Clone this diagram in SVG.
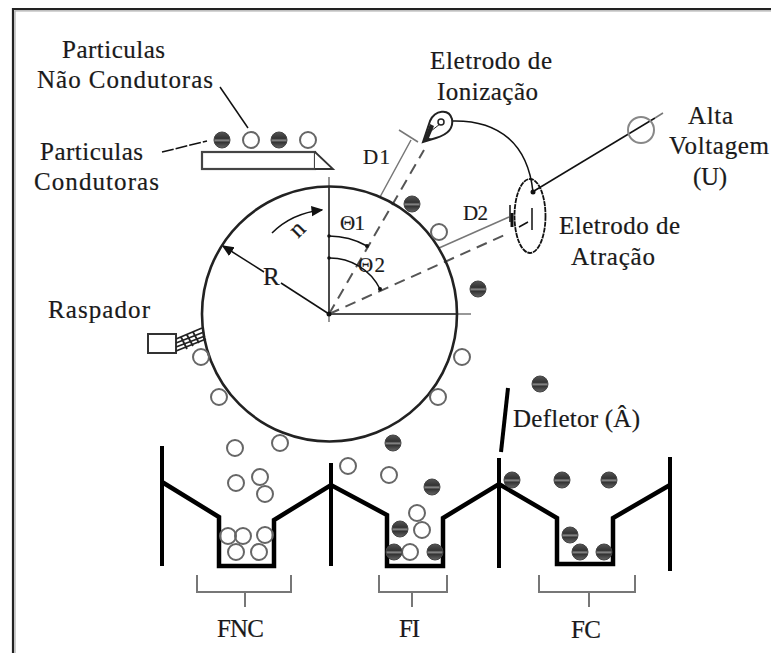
<svg xmlns="http://www.w3.org/2000/svg" width="771" height="653" viewBox="0 0 771 653">
<style>
text{font-family:"Liberation Serif","Times New Roman",serif;font-size:25px;fill:#1a1a1a;stroke:#1a1a1a;stroke-width:.2}
.sm{font-size:21px}
.o{fill:none;stroke:#666;stroke-width:2}
.d{fill:url(#dk);stroke:#444;stroke-width:1}
.h{fill:none;stroke:#000;stroke-width:4.5;stroke-linejoin:miter;stroke-linecap:butt}
.w{fill:none;stroke:#000;stroke-width:4}
.br{fill:none;stroke:#777;stroke-width:2}
.l{fill:none;stroke:#111;stroke-width:1.5}
.g{fill:none;stroke:#777;stroke-width:1.5}
.da{fill:none;stroke:#555;stroke-width:2;stroke-dasharray:11 7}
</style>
<defs>
<linearGradient id="dk" x1="0" y1="0" x2="0" y2="1">
<stop offset="0" stop-color="#555"/><stop offset=".4" stop-color="#333"/><stop offset=".52" stop-color="#888"/><stop offset=".64" stop-color="#333"/><stop offset="1" stop-color="#666"/>
</linearGradient>
<marker id="ah" markerWidth="8" markerHeight="8" refX="7" refY="3.5" orient="auto"><path d="M0 0L8 3.5L0 7z" fill="#111"/></marker>
</defs>
<rect width="771" height="653" fill="#fff"/>
<g id="frame">
<path d="M771 9H13V653" fill="none" stroke="#222" stroke-width="2.200"/>
<path d="M771 10.800H15V653" fill="none" stroke="#aaa" stroke-width="1.200"/>
</g>
<g id="connectors">
<path class="l" d="M220 87L248 128"/>
<path class="l" stroke-dasharray="12 2" d="M162 152L207 141"/>
<path class="l" stroke-width="1.600" d="M450 121C500 119 528 145 533 192"/>
<path class="l" d="M534 191L655 118"/>
<path class="g" d="M655 118L663 113"/>
<path class="l" d="M329 187V314H457"/>
<path class="g" d="M329 177V187M329 314V322M457 314H471"/>
<path class="da" d="M329 314L424 150"/>
<path class="da" d="M329 314L509 233"/>
<path class="g" stroke-width="2" d="M380 197L411 140M399 130L418 142"/>
<path class="g" stroke-width="2" d="M439 248L509 217"/>
<path class="l" marker-end="url(#ah)" d="M272 233C285 220 303 212 322 210"/>
<path class="l" d="M329 314L281 283"/>
<path class="l" marker-end="url(#ah)" d="M264 272L223 246"/>
<path class="l" d="M329 236A78 78 0 0 1 367 246M329 258A56 56 0 0 1 380 289"/>
<circle cx="329" cy="236" r="1.800" fill="#111"/><circle cx="329" cy="258" r="1.800" fill="#111"/><circle cx="367" cy="246" r="2" fill="#111"/><circle cx="380" cy="289" r="2" fill="#111"/><circle cx="329" cy="314" r="2.500" fill="#111"/>
</g>
<g id="drum"><circle cx="329.500" cy="314" r="127.500" fill="none" stroke="#222" stroke-width="2.600"/></g>
<g id="plate">
<rect x="202" y="152" width="113" height="17" fill="#fff" stroke="#444" stroke-width="2.200"/>
<path d="M315 152L333 169H315" fill="#fff" stroke="#333" stroke-width="1.800"/>
</g>
<g id="scraper">
<rect x="148" y="334" width="28" height="19" fill="#fff" stroke="#333" stroke-width="2"/>
<path fill="none" stroke="#222" stroke-width="1.800" d="M176 339L202 328M176 343L204 332M176 347L205 336M176 351L206 339M181 337L187 349M187 335L193 346M193 332L199 343"/>
</g>
<g id="ionization-electrode">
<path fill="#fff" stroke="#222" stroke-width="2" d="M423 142L430 121C435 110 449 108 452 119C454 130 446 135 436 138Z"/>
<path fill="#222" d="M423 142L430 124L434 126L429 138L433 139Z"/>
<circle cx="441" cy="122" r="3" fill="none" stroke="#222" stroke-width="1.500"/>
<path stroke="#222" fill="none" d="M431 131L440 124"/>
</g>
<g id="attraction-electrode">
<ellipse cx="530" cy="216" rx="15.500" ry="37" fill="none" stroke="#111" stroke-width="1.800" stroke-dasharray="5 .8"/>
<circle cx="533" cy="192" r="2.500" fill="#111"/>
<path stroke="#111" stroke-width="1.500" fill="none" d="M532 208V230M519 227L528 222M510 205V222"/>
<path stroke="#111" stroke-width="3" fill="none" d="M512 213V227"/>
</g>
<g id="voltage"><circle cx="641" cy="130" r="13" fill="none" stroke="#888" stroke-width="2"/></g>
<g id="hoppers">
<path class="h" d="M162 482L219 517V566H274V520L331 485L387 515V566H443V518L499 484L557 518V564H613V518L670 485"/>
<path class="w" d="M162 446V566M331 463V566M499 458V568M670 457V571"/>
<path class="w" d="M508 388L501 452"/>
</g>
<g id="brackets">
<path class="br" d="M197 575V592H291V575M245 592V607"/>
<path class="br" d="M379 575V592H447V575M412 592V607"/>
<path class="br" d="M539 575V592H635V575M589 592V607"/>
</g>
<g id="open-particles">
<circle class="o" cx="251" cy="140" r="8"/><circle class="o" cx="308" cy="140" r="8"/>
<circle class="o" cx="439" cy="232" r="8"/><circle class="o" cx="462" cy="357" r="8"/>
<circle class="o" cx="201" cy="357" r="8"/><circle class="o" cx="219" cy="397" r="8"/>
<circle class="o" cx="280" cy="443" r="8"/><circle class="o" cx="438" cy="397" r="8"/>
<circle class="o" cx="235" cy="448" r="8"/><circle class="o" cx="236" cy="483" r="8"/>
<circle class="o" cx="260" cy="477" r="8"/><circle class="o" cx="265" cy="494" r="8"/>
<circle class="o" cx="348" cy="466" r="8"/><circle class="o" cx="389" cy="475" r="8"/>
<circle class="o" cx="417" cy="513" r="8"/><circle class="o" cx="422" cy="530" r="8"/>
<circle class="o" cx="228" cy="536" r="8"/><circle class="o" cx="243" cy="536" r="8"/>
<circle class="o" cx="265" cy="535" r="8"/><circle class="o" cx="236" cy="552" r="8"/>
<circle class="o" cx="259" cy="552" r="8"/><circle class="o" cx="410" cy="552" r="8"/>
</g>
<g id="dark-particles">
<circle class="d" cx="222" cy="140" r="8"/><circle class="d" cx="279" cy="140" r="8"/>
<circle class="d" cx="412" cy="204" r="8"/><circle class="d" cx="478" cy="289" r="8"/>
<circle class="d" cx="393" cy="443" r="8"/><circle class="d" cx="432" cy="487" r="8"/>
<circle class="d" cx="400" cy="529" r="8"/><circle class="d" cx="394" cy="552" r="8"/>
<circle class="d" cx="435" cy="552" r="8"/><circle class="d" cx="540" cy="384" r="8"/>
<circle class="d" cx="512" cy="480" r="8"/><circle class="d" cx="562" cy="480" r="8"/>
<circle class="d" cx="609" cy="480" r="8"/><circle class="d" cx="570" cy="535" r="8"/>
<circle class="d" cx="580" cy="552" r="8"/><circle class="d" cx="604" cy="552" r="8"/>
</g>
<g id="labels">
<text x="62" y="58" textLength="103">Particulas</text>
<text x="37" y="88" textLength="176">Não Condutoras</text>
<text x="40" y="160" textLength="103">Particulas</text>
<text x="34" y="190" textLength="125">Condutoras</text>
<text x="48" y="318" textLength="102">Raspador</text>
<text x="430" y="69" textLength="122">Eletrodo de</text>
<text x="437" y="100" textLength="101">Ionização</text>
<text x="688" y="124" textLength="45">Alta</text>
<text x="669" y="154" textLength="100">Voltagem</text>
<text x="693" y="185" textLength="34">(U)</text>
<text x="559" y="234" textLength="121">Eletrodo de</text>
<text x="571" y="265" textLength="84">Atração</text>
<text x="513" y="427" textLength="127">Defletor (Â)</text>
<text x="217" y="637" textLength="47">FNC</text>
<text x="399" y="637" textLength="21">FI</text>
<text x="571" y="638" textLength="30">FC</text>
<text class="sm" x="363" y="164" textLength="27">D1</text>
<text class="sm" x="463" y="220" textLength="25">D2</text>
<text class="sm" x="340" y="230" textLength="25">Θ1</text>
<text class="sm" x="358" y="272" textLength="27">Θ2</text>
<text x="263" y="285" textLength="16">R</text>
<text x="0" y="0" transform="translate(298 239) rotate(-45)">n</text>
</g>
</svg>
